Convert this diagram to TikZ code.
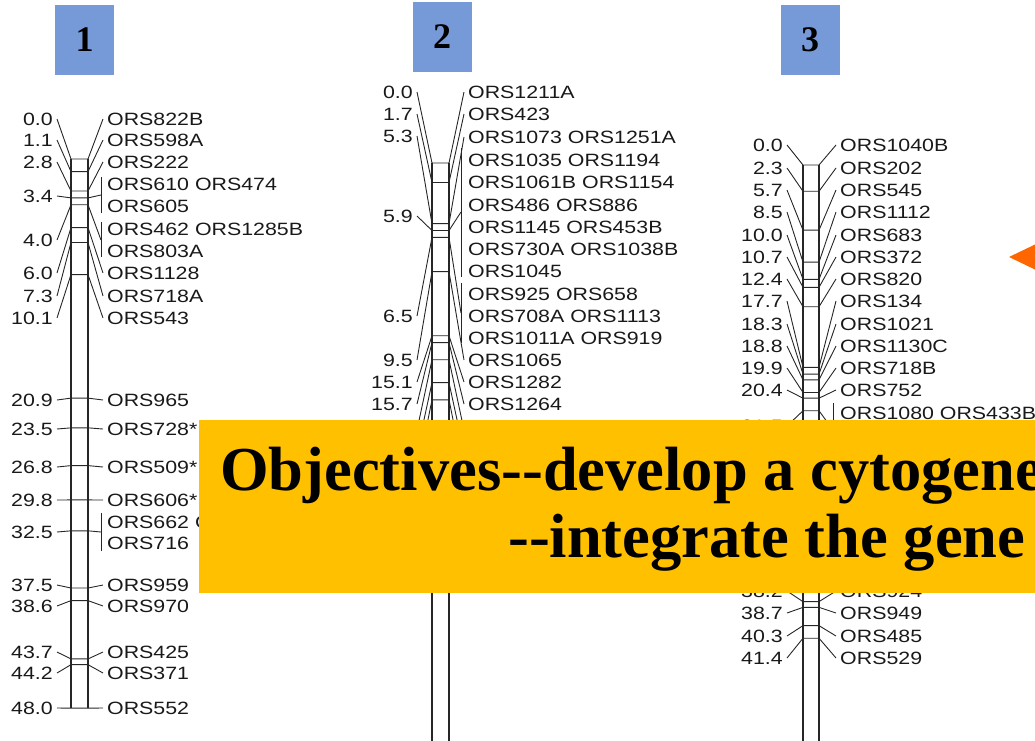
\documentclass[tikz,border=0pt]{standalone}
\usepackage{fontspec}
\setmainfont{Liberation Serif}
\newfontfamily\mapfont[FakeStretch=1.2]{Liberation Sans}
\definecolor{numblue}{RGB}{118,153,215}
\definecolor{objgold}{RGB}{255,192,0}
\definecolor{ptrorange}{RGB}{255,102,0}

\begin{document}
\begin{tikzpicture}[
  x=1pt, y=-1pt,
  numtag/.style={
    fill=numblue,
    inner sep=0pt,
    minimum width=59pt,
    minimum height=70pt,
    font=\fontsize{36}{40}\selectfont\bfseries
  },
  cmlbl/.style={
    anchor=east,
    inner sep=0pt,
    text=black!90,
    font=\mapfont\fontsize{17.8}{20}\selectfont
  },
  orslbl/.style={
    anchor=west,
    inner sep=0pt,
    text=black!90,
    font=\mapfont\fontsize{17.8}{20}\selectfont
  },
  barline/.style={line width=1.2pt, draw=black!85},
  mapline/.style={line width=0.9pt, draw=black!85},
  objline/.style={
    anchor=base west,
    inner sep=0pt,
    font=\fontsize{62.5}{70}\selectfont\bfseries
  }
]
\useasboundingbox (0,0) rectangle (1035,740);

% number tags
\node[numtag] (tag1) at (84.5,40) {1};
\node[numtag] (tag2) at (442,36.5) {2};
\node[numtag] (tag3) at (810,40) {3};

% chromosome 1
\def\xl{71}\def\xr{88}\def\yz{159}
\draw[barline] (\xl,\yz) -- (\xl,708) (\xr,\yz) -- (\xr,708);
\foreach \cm/\ly/\ry/\rx in {0.0/119/119/103, 1.1/140/140/103, 2.8/162/162/103,
  3.4/196/195/101, 4.0/240/240/101, 6.0/273/273/103, 7.3/296/296/103,
  10.1/318/318/103, 20.9/400/400/103, 23.5/429/429/103, 26.8/467/467/103,
  29.8/500/500/103, 32.5/532/532/101, 37.5/585/585/103, 38.6/606/606/103,
  43.7/652/652/103, 44.2/673/673/103, 48.0/708/708/103}{
  \pgfmathsetmacro\yt{\yz+11.44*\cm}
  \draw[mapline] (57,\ly) -- (\xl,\yt) -- (\xr,\yt) -- (\rx,\ry);
}
\draw[mapline] (101,177) -- (101,213) (101,222) -- (101,257) (101,513) -- (101,551);
\foreach \y/\t in {119/0.0, 140/1.1, 162/2.8, 196/3.4, 240/4.0, 273/6.0,
  296/7.3, 318/10.1, 400/20.9, 429/23.5, 467/26.8, 500/29.8, 532/32.5,
  585/37.5, 606/38.6, 652/43.7, 673/44.2, 708/48.0}
  \node[cmlbl] (cone\y) at (53,\y) {\t};
\foreach \y/\t in {119/ORS822B, 140/ORS598A, 162/ORS222, 184/ORS610 ORS474,
  206/ORS605, 229/ORS462 ORS1285B, 251/ORS803A, 273/ORS1128, 296/ORS718A,
  318/ORS543, 400/ORS965, 429/ORS728*, 467/ORS509*, 500/ORS606*,
  522/ORS662 ORS, 543/ORS716, 585/ORS959, 606/ORS970, 652/ORS425,
  673/ORS371, 708/ORS552}
  \node[orslbl] (rone\y) at (107,\y) {\t};

% chromosome 2
\def\xl{432}\def\xr{449}\def\yz{163}
\draw[barline] (\xl,\yz) -- (\xl,745) (\xr,\yz) -- (\xr,745);
\foreach \cm/\ly/\ry/\rx in {0.0/92/92/464, 1.7/114/114/464, 5.3/136/137/464,
  5.9/216/212/461, 6.5/316/313/461, 9.5/360/360/464, 15.1/382/382/464,
  15.7/404/404/464, 17.2/430/430/464, 19.2/452/452/464, 20.7/474/474/464}{
  \pgfmathsetmacro\yt{\yz+11.44*\cm}
  \draw[mapline] (417,\ly) -- (\xl,\yt) -- (\xr,\yt) -- (\rx,\ry);
}
\draw[mapline] (461,148) -- (461,277) (461,283) -- (461,343);
\foreach \y/\t in {92/0.0, 114/1.7, 136/5.3, 216/5.9, 316/6.5, 360/9.5,
  382/15.1, 404/15.7}
  \node[cmlbl] (ctwo\y) at (413,\y) {\t};
\foreach \y/\t in {92/ORS1211A, 114/ORS423, 137/ORS1073 ORS1251A,
  160/ORS1035 ORS1194, 182/ORS1061B ORS1154, 205/ORS486 ORS886,
  227/ORS1145 ORS453B, 249/ORS730A ORS1038B, 271/ORS1045,
  294/ORS925 ORS658, 316/ORS708A ORS1113, 338/ORS1011A ORS919,
  360/ORS1065, 382/ORS1282, 404/ORS1264}
  \node[orslbl] (rtwo\y) at (468,\y) {\t};

% chromosome 3
\def\xl{803}\def\xr{819}\def\yz{165}
\draw[barline] (\xl,\yz) -- (\xl,745) (\xr,\yz) -- (\xr,745);
\foreach \cm/\ly/\ry/\rx in {0.0/145/145/836, 2.3/168/168/836, 5.7/190/190/836,
  8.5/212/212/836, 10.0/235/235/836, 10.7/257/257/836, 12.4/279/279/836,
  17.7/301/301/836, 18.3/324/324/836, 18.8/346/346/836, 19.9/368/368/836,
  20.4/390/390/836, 21.5/426/430/833, 38.2/591/591/836, 38.7/613/613/836,
  40.3/636/636/836, 41.4/658/658/836}{
  \pgfmathsetmacro\yt{\yz+11.43*\cm}
  \draw[mapline] (787,\ly) -- (\xl,\yt) -- (\xr,\yt) -- (\rx,\ry);
}
\draw[mapline] (833,403) -- (833,450);
\foreach \y/\t in {145/0.0, 168/2.3, 190/5.7, 212/8.5, 235/10.0, 257/10.7,
  279/12.4, 301/17.7, 324/18.3, 346/18.8, 368/19.9, 390/20.4, 426/21.5,
  591/38.2, 613/38.7, 636/40.3, 658/41.4}
  \node[cmlbl] (cthree\y) at (783,\y) {\t};
\foreach \y/\t in {145/ORS1040B, 168/ORS202, 190/ORS545, 212/ORS1112,
  235/ORS683, 257/ORS372, 279/ORS820, 301/ORS134, 324/ORS1021,
  346/ORS1130C, 368/ORS718B, 390/ORS752, 413/ORS1080 ORS433B,
  591/ORS924, 613/ORS949, 636/ORS485, 658/ORS529}
  \node[orslbl] (rthree\y) at (840,\y) {\t};

% pointer at the right edge
\fill[ptrorange] (1009,257) -- (1036,244) -- (1036,270) -- cycle;

% objectives banner
\fill[objgold] (199,420) rectangle (1040,593);
\node[objline] (obj1) at (220,490) {Objectives-{}-develop a cytogene};
\node[objline] (obj2) at (508,557) {-{}-integrate the gene};
\end{tikzpicture}
\end{document}
